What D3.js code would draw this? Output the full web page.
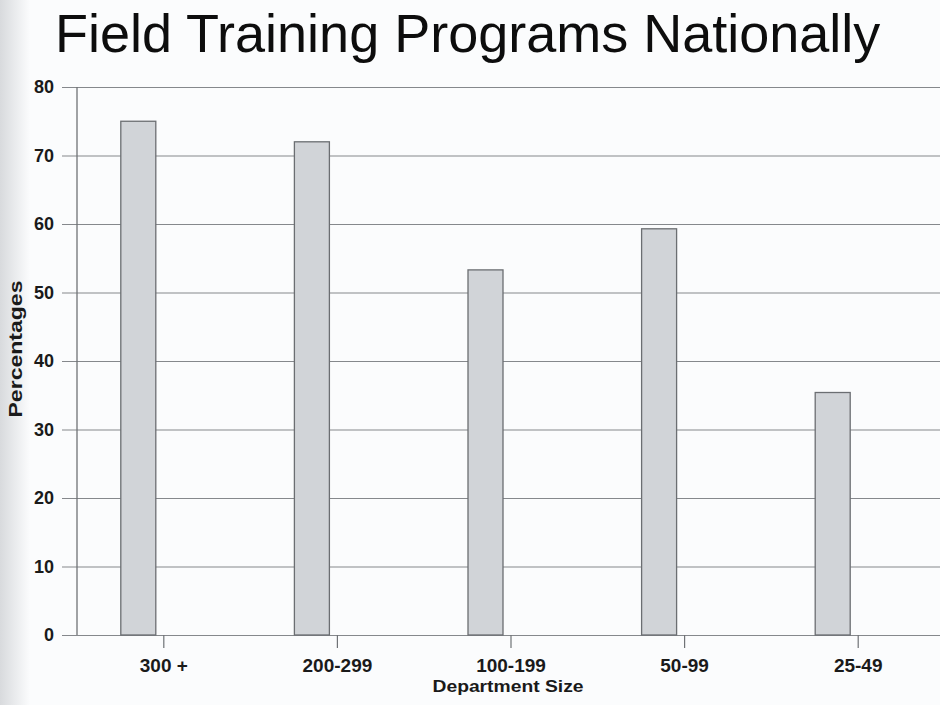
<!DOCTYPE html>
<html>
<head>
<meta charset="utf-8">
<script src="https://cdn.jsdelivr.net/npm/d3@7"></script>
<style>
  body { margin: 0; background: #fbfcfd; }
  svg { display: block; font-family: "Liberation Sans", Arial, sans-serif; }
</style>
</head>
<body>
<div id="chart"></div>
<script>
// Chart data
const categories = ["300 +", "200-299", "100-199", "50-99", "25-49"];
const percentages = [75, 72, 53.3, 59.3, 35.4];
const yTicks = [0, 10, 20, 30, 40, 50, 60, 70, 80];

const W = 940, H = 705;
const margin = { top: 87, right: -5, bottom: 70, left: 77 },
    width = W - margin.left - margin.right,
    height = H - margin.top - margin.bottom;

const svg = d3.select("#chart")
    .append("svg")
    .attr("width", W)
    .attr("height", H);

// faint scan shadow on the left edge
const defs = svg.append("defs");
const grad = defs.append("linearGradient").attr("id", "edge");
grad.append("stop").attr("offset", "0").attr("stop-color", "#d8dadd");
grad.append("stop").attr("offset", "1").attr("stop-color", "#fbfcfd");
svg.append("rect").attr("width", 30).attr("height", H).attr("fill", "url(#edge)");

const g = svg.append("g")
    .attr("transform", `translate(${margin.left},${margin.top})`);

const x = d3.scaleBand()
    .domain(categories)
    .range([0, width]);

const y = d3.scaleLinear()
    .domain([0, 80])
    .range([height, 0]);

// Gridlines with tick labels (extend left past the axis)
const yAxis = g.append("g")
    .call(d3.axisLeft(y).tickValues(yTicks).tickSize(-width - 15).tickPadding(8))
    .attr("transform", "translate(-15,0)");
yAxis.select(".domain").remove();
yAxis.selectAll(".tick line").attr("stroke", "#85888c").attr("stroke-width", 1.2);
yAxis.selectAll(".tick text")
    .attr("font-size", 18).attr("font-weight", "bold").attr("fill", "#1a1a1a")
    .attr("font-family", "Liberation Sans, Arial, sans-serif");

// y axis line
g.append("line")
    .attr("x1", 0).attr("x2", 0).attr("y1", 0).attr("y2", height)
    .attr("stroke", "#6f7276").attr("stroke-width", 1.3);

// Bars: sit just left of the category centre
const barW = 35;
g.selectAll(".bar")
    .data(percentages)
    .enter().append("rect")
    .attr("class", "bar")
    .attr("x", (d, i) => x(categories[i]) + x.bandwidth() / 2 - 8 - barW)
    .attr("y", d => y(d))
    .attr("width", barW)
    .attr("height", d => height - y(d))
    .attr("fill", "#d1d4d8")
    .attr("stroke", "#6b6e72")
    .attr("stroke-width", 1.3);

// x axis
const xAxis = g.append("g")
    .attr("transform", `translate(0,${height})`)
    .call(d3.axisBottom(x).tickSize(13).tickPadding(11));
xAxis.select(".domain").remove();
xAxis.selectAll(".tick line").attr("stroke", "#6f7276").attr("stroke-width", 1.2);
xAxis.selectAll(".tick text")
    .attr("font-size", 19).attr("font-weight", "bold").attr("fill", "#1a1a1a")
    .attr("font-family", "Liberation Sans, Arial, sans-serif");

// Axis labels
svg.append("text")
    .attr("x", 508).attr("y", 692)
    .attr("text-anchor", "middle")
    .attr("font-size", 17).attr("font-weight", "bold").attr("fill", "#1a1a1a")
    .attr("textLength", 151).attr("lengthAdjust", "spacingAndGlyphs")
    .text("Department Size");

svg.append("text")
    .attr("transform", "translate(22,349) rotate(-90)")
    .attr("text-anchor", "middle")
    .attr("font-size", 19).attr("font-weight", "bold").attr("fill", "#1a1a1a")
    .attr("textLength", 137).attr("lengthAdjust", "spacingAndGlyphs")
    .text("Percentages");

// Title
svg.append("text")
    .attr("x", 55).attr("y", 52)
    .attr("font-size", 54).attr("fill", "#0d0d0d")
    .text("Field Training Programs Nationally");
</script>
</body>
</html>
